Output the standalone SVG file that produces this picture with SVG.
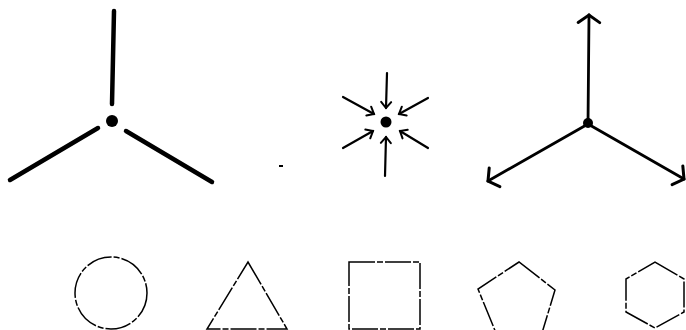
<svg xmlns="http://www.w3.org/2000/svg" width="686" height="330" viewBox="0 0 686 330">
<style>
.thick{stroke:#000;stroke-width:4.5;stroke-linecap:round;fill:none}
.mid{stroke:#000;stroke-width:2.2;stroke-linecap:round;fill:none}
.med{stroke:#000;stroke-width:2.8;stroke-linecap:round;fill:none}
.shape{stroke:#000;stroke-width:1.5;fill:none;stroke-dasharray:26 2 6 2}
.dot{fill:#000}
</style>
<defs>
<marker id="inHead" markerUnits="userSpaceOnUse" markerWidth="14" markerHeight="14" viewBox="-8 -7 10 14" refX="0" refY="0" orient="auto">
<path d="M-6,-5 L0,0 L-6,5" fill="none" stroke="#000" stroke-width="2" stroke-linecap="round"/>
</marker>
<marker id="outHead" markerUnits="userSpaceOnUse" markerWidth="20" markerHeight="28" viewBox="-9 -13 12 26" refX="0" refY="0" orient="auto">
<path d="M-7,-10 L0,0 L-7,10" fill="none" stroke="#000" stroke-width="2.8" stroke-linecap="round"/>
</marker>
</defs>
<g id="connectors">
<line class="thick" x1="114" y1="11" x2="112" y2="104"/>
<line class="thick" x1="98" y1="128" x2="10" y2="180"/>
<line class="thick" x1="126" y1="131" x2="212" y2="182"/>
<line class="mid" x1="387" y1="73" x2="386" y2="108" marker-end="url(#inHead)"/>
<line class="mid" x1="385" y1="176" x2="386" y2="137" marker-end="url(#inHead)"/>
<line class="mid" x1="343" y1="97" x2="374" y2="114" marker-end="url(#inHead)"/>
<line class="mid" x1="428" y1="98" x2="399" y2="114" marker-end="url(#inHead)"/>
<line class="mid" x1="343" y1="148" x2="373" y2="131" marker-end="url(#inHead)"/>
<line class="mid" x1="428" y1="148" x2="400" y2="131" marker-end="url(#inHead)"/>
<line class="med" x1="588" y1="124" x2="589" y2="15" marker-end="url(#outHead)"/>
<line class="med" x1="588" y1="124" x2="488" y2="181" marker-end="url(#outHead)"/>
<line class="med" x1="588" y1="124" x2="684" y2="179" marker-end="url(#outHead)"/>
</g>
<g id="node-dot1"><circle class="dot" cx="112" cy="121" r="6"/></g>
<g id="node-dot2"><circle class="dot" cx="386" cy="122" r="5.5"/></g>
<g id="node-dot3"><circle class="dot" cx="588" cy="123" r="5"/></g>
<g id="mark"><rect x="279" y="165" width="4" height="2" fill="#000"/></g>
<g id="node-circle"><circle class="shape" cx="111" cy="293" r="36"/></g>
<g id="node-triangle"><polygon class="shape" points="248,262 287,329 207,329"/></g>
<g id="node-square"><rect class="shape" x="349" y="262" width="71" height="67"/></g>
<g id="node-pentagon"><polygon class="shape" points="519,262 555,290 542,333 496,333 478,289"/></g>
<g id="node-hexagon"><polygon class="shape" points="655,262 684,279 684,312 655,328 626,312 626,279"/></g>
</svg>
